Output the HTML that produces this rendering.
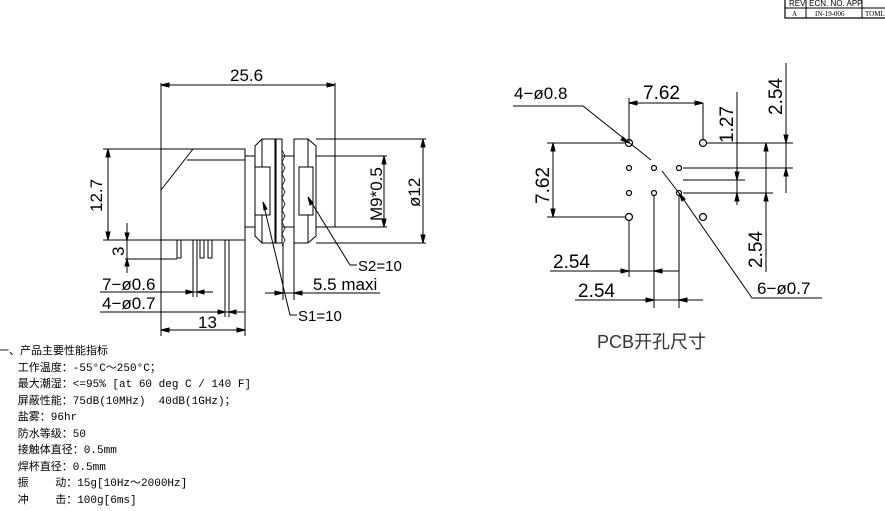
<!DOCTYPE html>
<html><head><meta charset="utf-8"><style>
body{margin:0;background:#fff;width:885px;height:511px;overflow:hidden;position:relative}
svg{position:absolute;left:0;top:0}
.t{font-family:"Liberation Sans",sans-serif;font-size:17px;fill:#000}
.s{font-family:"Liberation Sans",sans-serif;font-size:13px;fill:#000}
.txt{position:absolute;left:-2px;top:344px;font-family:"Liberation Mono","Noto Sans CJK SC",monospace;font-size:11px;line-height:16.5px;color:#000;white-space:pre}
</style></head><body>
<svg width="885" height="511" viewBox="0 0 885 511" stroke="#000" stroke-width="1" fill="none">
<rect x="785" y="-4" width="102" height="22" stroke-width="1.2"/>
<line x1="785" y1="8" x2="887" y2="8"/>
<line x1="806" y1="-4" x2="806" y2="18"/><line x1="862" y1="-4" x2="862" y2="18"/>
<text x="789" y="6" class="s" style="font-size:8px" stroke="none" fill="#000">REV.  ECN. NO.      APP</text>
<text x="792" y="16" style="font-size:7px;font-family:Liberation Serif" stroke="none" fill="#000">A</text>
<text x="815" y="16" style="font-size:7px;font-family:Liberation Serif" stroke="none" fill="#000">IN-19-006</text>
<text x="865" y="16" style="font-size:7px;font-family:Liberation Serif" stroke="none" fill="#000">TOML</text>
<line x1="161" y1="83" x2="161" y2="336"/><line x1="335" y1="83" x2="335" y2="156"/>
<line x1="161" y1="85" x2="335" y2="85"/>
<path d="M161 85l8-2v4zM335 85l-8-2v4z" fill="#000"/>
<text x="230" y="81" class="t" stroke="none" fill="#000">25.6</text>
<rect x="161" y="149" width="84" height="91"/>
<line x1="161" y1="190" x2="193" y2="149"/><line x1="187" y1="160" x2="245" y2="160"/>
<line x1="103" y1="149" x2="161" y2="149"/><line x1="103" y1="240" x2="161" y2="240"/>
<line x1="108" y1="149" x2="108" y2="240"/>
<path d="M108 149l-2 8h4zM108 240l-2-8h4z" fill="#000"/>
<text transform="translate(102,212) rotate(-90)" class="t" stroke="none" fill="#000">12.7</text>
<rect x="245" y="156" width="10" height="71"/>
<path d="M262 139H275V243H262L255 236V146Z"/>
<line x1="262" y1="139" x2="262" y2="167"/><line x1="262" y1="215" x2="262" y2="243"/>
<rect x="255" y="167" width="15" height="48"/>
<rect x="276" y="139" width="6" height="104"/>
<path d="M282 150l3 6-3 6 3 6-3 6 3 6-3 6 3 6-3 6 3 6-3 6 3 6-3 6 3 6-3 6 3 6-3 6" stroke-width="0.8"/>
<rect x="282" y="156" width="12" height="71"/>
<path d="M294 139H308L316 146V236L308 243H294Z"/>
<line x1="308" y1="139" x2="308" y2="167"/><line x1="308" y1="215" x2="308" y2="243"/>
<rect x="299" y="167" width="14" height="48"/>
<rect x="316" y="156" width="19" height="71"/>
<line x1="335" y1="156" x2="387" y2="156"/><line x1="335" y1="227" x2="387" y2="227"/>
<line x1="384" y1="156" x2="384" y2="227"/>
<path d="M384 156l-2 8h4zM384 227l-2-8h4z" fill="#000"/>
<text transform="translate(382,221) rotate(-90)" class="t" stroke="none" fill="#000">M9*0.5</text>
<line x1="316" y1="139" x2="426" y2="139"/><line x1="316" y1="243" x2="426" y2="243"/>
<line x1="423" y1="139" x2="423" y2="243"/>
<path d="M423 139l-2 8h4zM423 243l-2-8h4z" fill="#000"/>
<text transform="translate(420,207) rotate(-90)" class="t" stroke="none" fill="#000">ø12</text>
<polyline points="308,197 350,265 357,265"/><path d="M308 197l2 8 3-2z" fill="#000"/>
<text x="358" y="271" class="t" style="font-size:15px" stroke="none" fill="#000">S2=10</text>
<polyline points="263,202 290,315 297,315"/><path d="M263 202l1 8 3-1z" fill="#000"/>
<text x="298" y="321" class="t" style="font-size:15px" stroke="none" fill="#000">S1=10</text>
<line x1="283" y1="243" x2="283" y2="300"/><line x1="294" y1="243" x2="294" y2="300"/>
<line x1="265" y1="293" x2="380" y2="293"/>
<path d="M283 293l-8-2v4zM294 293l8-2v4z" fill="#000"/>
<text x="313" y="290" class="t" stroke="none" fill="#000">5.5  maxi</text>
<path d="M177 240V258H181V240M193 240V297M197 240V297M200 240V258H204V240M208 240V258H212V240M225 240V317M229 240V317"/>
<line x1="125" y1="240" x2="161" y2="240"/><line x1="125" y1="259" x2="177" y2="259"/>
<line x1="127" y1="223" x2="127" y2="273"/>
<path d="M127 240l-2-7h4zM127 259l-2 7h4z" fill="#000"/>
<text transform="translate(124,256) rotate(-90)" class="t" stroke="none" fill="#000">3</text>
<text x="102" y="290" class="t" stroke="none" fill="#000">7−ø0.6</text>
<line x1="100" y1="292" x2="213" y2="292"/><path d="M193 292l-7-2v4zM197 292l7-2v4z" fill="#000"/>
<text x="102" y="309" class="t" stroke="none" fill="#000">4−ø0.7</text>
<line x1="100" y1="312" x2="245" y2="312"/><path d="M225 312l-7-2v4zM229 312l7-2v4z" fill="#000"/>
<line x1="245" y1="240" x2="245" y2="336"/>
<line x1="161" y1="330" x2="245" y2="330"/>
<path d="M161 330l8-2v4zM245 330l-8-2v4z" fill="#000"/>
<text x="198" y="328" class="t" stroke="none" fill="#000">13</text>
<g stroke-width="1.2">
<circle cx="629" cy="143" r="3.5"/><circle cx="703" cy="143" r="3.5"/>
<circle cx="629" cy="217" r="3.5"/><circle cx="703" cy="217" r="3.5"/>
<circle cx="629" cy="168" r="2.5"/><circle cx="654" cy="168" r="2.5"/><circle cx="679" cy="168" r="2.5"/>
<circle cx="629" cy="193" r="2.5"/><circle cx="654" cy="193" r="2.5"/><circle cx="679" cy="193" r="2.5"/>
</g>
<text x="514" y="99" class="t" stroke="none" fill="#000">4−ø0.8</text>
<polyline points="513,106 583,106 651,160"/><path d="M629 143l-6-6-2 3z" fill="#000"/>
<polyline points="662,171 679,193 752,298 822,298"/><path d="M679 193l3 8 3-2z" fill="#000"/>
<text x="757" y="294" class="t" stroke="none" fill="#000">6−ø0.7</text>
<line x1="629" y1="98" x2="629" y2="143"/><line x1="703" y1="103" x2="703" y2="140"/>
<line x1="629" y1="103" x2="703" y2="103"/>
<path d="M629 103l8-2v4zM703 103l-8-2v4z" fill="#000"/>
<text x="643" y="99" class="t" style="font-size:19px" stroke="none" fill="#000">7.62</text>
<line x1="547" y1="143" x2="625" y2="143"/><line x1="547" y1="217" x2="625" y2="217"/>
<line x1="553" y1="143" x2="553" y2="217"/>
<path d="M553 143l-2 8h4zM553 217l-2-8h4z" fill="#000"/>
<text transform="translate(549,204) rotate(-90)" class="t" style="font-size:19px" stroke="none" fill="#000">7.62</text>
<line x1="683" y1="180" x2="745" y2="180"/><line x1="683" y1="193" x2="773" y2="193"/>
<line x1="737" y1="92" x2="737" y2="205"/>
<path d="M737 180l-2-8h4zM737 193l-2 8h4z" fill="#000"/>
<text transform="translate(733,143) rotate(-90)" class="t" style="font-size:19px" stroke="none" fill="#000">1.27</text>
<line x1="707" y1="143" x2="793" y2="143"/><line x1="683" y1="168" x2="793" y2="168"/>
<line x1="786" y1="63" x2="786" y2="193"/>
<path d="M786 143l-2-8h4zM786 168l-2 8h4z" fill="#000"/>
<text transform="translate(782,115) rotate(-90)" class="t" style="font-size:19px" stroke="none" fill="#000">2.54</text>
<line x1="766" y1="143" x2="766" y2="272"/>
<path d="M766 143l-2 8h4zM766 193l-2 8h4z" fill="#000"/>
<text transform="translate(762,268) rotate(-90)" class="t" style="font-size:19px" stroke="none" fill="#000">2.54</text>
<line x1="629" y1="220" x2="629" y2="277"/><line x1="679" y1="196" x2="679" y2="308"/><line x1="654" y1="196" x2="654" y2="308"/>
<line x1="550" y1="271" x2="679" y2="271"/>
<path d="M629 271l-8-2v4zM654 271l8-2v4z" fill="#000"/>
<text x="553" y="268" class="t" style="font-size:19px" stroke="none" fill="#000">2.54</text>
<line x1="575" y1="300" x2="703" y2="300"/>
<path d="M654 300l-8-2v4zM679 300l8-2v4z" fill="#000"/>
<text x="578" y="297" class="t" style="font-size:19px" stroke="none" fill="#000">2.54</text>
<text x="597" y="348" style="font-family:'Liberation Sans','Noto Sans CJK SC',sans-serif;font-size:18px" stroke="none" fill="#333">PCB开孔尺寸</text>
</svg>
<div class="txt">一、产品主要性能指标
   工作温度：-55°C～250°C；
   最大潮湿：&lt;=95% [at 60 deg C / 140 F]
   屏蔽性能：75dB(10MHz)  40dB(1GHz)；
   盐雾：96hr
   防水等级：50
   接触体直径：0.5mm
   焊杯直径：0.5mm
   振    动：15g[10Hz～2000Hz]
   冲    击：100g[6ms]</div>
</body></html>
